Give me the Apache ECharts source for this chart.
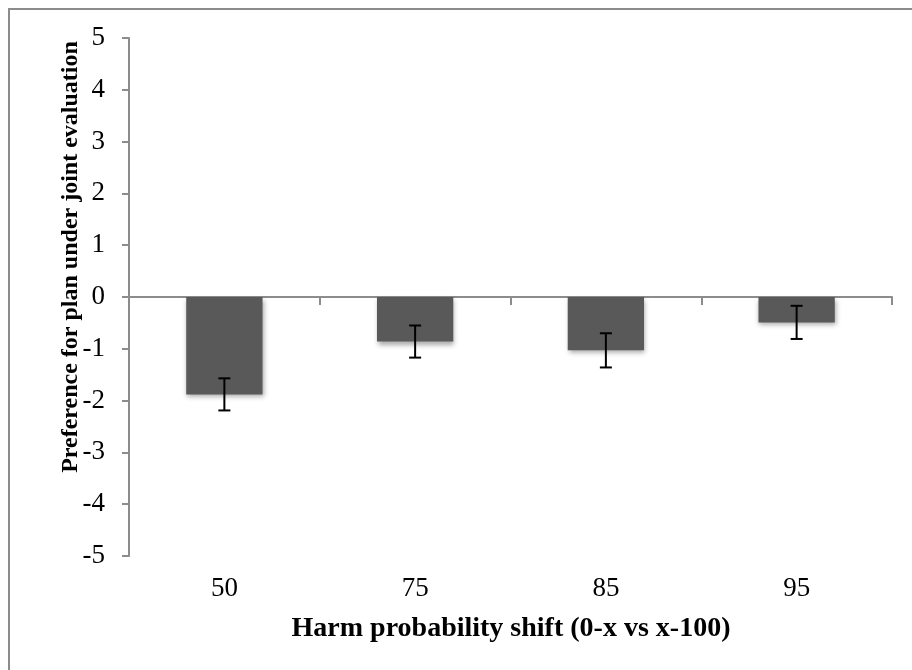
<!DOCTYPE html>
<html>
<head>
<meta charset="utf-8">
<script src="https://cdn.jsdelivr.net/npm/echarts@6/dist/echarts.min.js"></script>
<style>
  html, body { margin: 0; padding: 0; background: #fff; }
  #chart { width: 912px; height: 670px; }
</style>
</head>
<body>
<div id="chart"></div>
<script>
// Harm probability shift conditions
const categories = ['50', '75', '85', '95'];
// Mean preference for plan under joint evaluation
const means = [-1.88, -0.86, -1.03, -0.49];
// Standard error of each mean
const stdErr = [0.31, 0.31, 0.33, 0.32];
// Value axis ticks
const yTicks = [-5, -4, -3, -2, -1, 0, 1, 2, 3, 4, 5];

const xTitle = 'Harm probability shift (0-x vs x-100)';
const yTitle = 'Preference for plan under joint evaluation';

const serif = '"Liberation Serif", "DejaVu Serif", serif';
const axisGrey = '#8c8c8c';

const chart = echarts.init(document.getElementById('chart'), null, { renderer: 'canvas' });

const errorData = means.map((m, i) => [i, m - stdErr[i], m + stdErr[i]]);

chart.setOption({
  animation: false,
  backgroundColor: '#ffffff',
  grid: { left: 129, right: 20, top: 38, bottom: 114, containLabel: false, outerBoundsMode: 'none' },
  xAxis: [
    {
      // category labels along the bottom of the plot
      type: 'category',
      data: categories,
      position: 'bottom',
      boundaryGap: true,
      axisLine: { show: false, onZero: false },
      axisTick: { show: false },
      axisLabel: { show: true, margin: 19, color: '#000', fontFamily: serif, fontSize: 27 },
      splitLine: { show: false }
    },
    {
      // baseline with category ticks at y = 0
      type: 'category',
      data: categories,
      position: 'bottom',
      boundaryGap: true,
      axisLine: { show: true, onZero: true, onZeroAxisIndex: 0, lineStyle: { color: axisGrey, width: 2 } },
      axisTick: { show: true, length: 8, lineStyle: { color: axisGrey, width: 2 } },
      axisLabel: { show: false },
      splitLine: { show: false }
    }
  ],
  yAxis: {
    type: 'value',
    min: yTicks[0],
    max: yTicks[yTicks.length - 1],
    interval: 1,
    axisLine: { show: true, lineStyle: { color: axisGrey, width: 2 } },
    axisTick: { show: true, length: 7, lineStyle: { color: axisGrey, width: 2 } },
    axisLabel: { margin: 24, color: '#000', fontFamily: serif, fontSize: 27 },
    splitLine: { show: false }
  },
  graphic: [
    {
      type: 'rect',
      shape: { x: 9, y: 9, width: 1000, height: 1000 },
      style: { fill: 'none', stroke: axisGrey, lineWidth: 2 },
      silent: true
    },
    {
      type: 'text',
      x: 511, y: 629,
      style: {
        text: xTitle, fill: '#000', fontFamily: serif, fontWeight: 'bold', fontSize: 28,
        align: 'center', verticalAlign: 'middle'
      }
    },
    {
      type: 'text',
      x: 71, y: 257,
      rotation: Math.PI / 2,
      style: {
        text: yTitle, fill: '#000', fontFamily: serif, fontWeight: 'bold', fontSize: 24,
        align: 'center', verticalAlign: 'middle'
      }
    }
  ],
  series: [
    {
      type: 'bar',
      xAxisIndex: 0,
      data: means,
      barWidth: '40%',
      itemStyle: {
        color: '#595959',
        shadowColor: 'rgba(0,0,0,0.35)',
        shadowBlur: 5,
        shadowOffsetX: 1,
        shadowOffsetY: 3
      },
      z: 2
    },
    {
      type: 'custom',
      xAxisIndex: 0,
      data: errorData,
      z: 5,
      renderItem: function (params, api) {
        const i = api.value(0);
        const lo = api.coord([i, api.value(1)]);
        const hi = api.coord([i, api.value(2)]);
        const half = 6;
        const style = { stroke: '#000', lineWidth: 2 };
        return {
          type: 'group',
          children: [
            { type: 'line', shape: { x1: hi[0], y1: hi[1], x2: lo[0], y2: lo[1] }, style: style },
            { type: 'line', shape: { x1: hi[0] - half, y1: hi[1], x2: hi[0] + half, y2: hi[1] }, style: style },
            { type: 'line', shape: { x1: lo[0] - half, y1: lo[1], x2: lo[0] + half, y2: lo[1] }, style: style }
          ]
        };
      }
    }
  ]
});
</script>
</body>
</html>
